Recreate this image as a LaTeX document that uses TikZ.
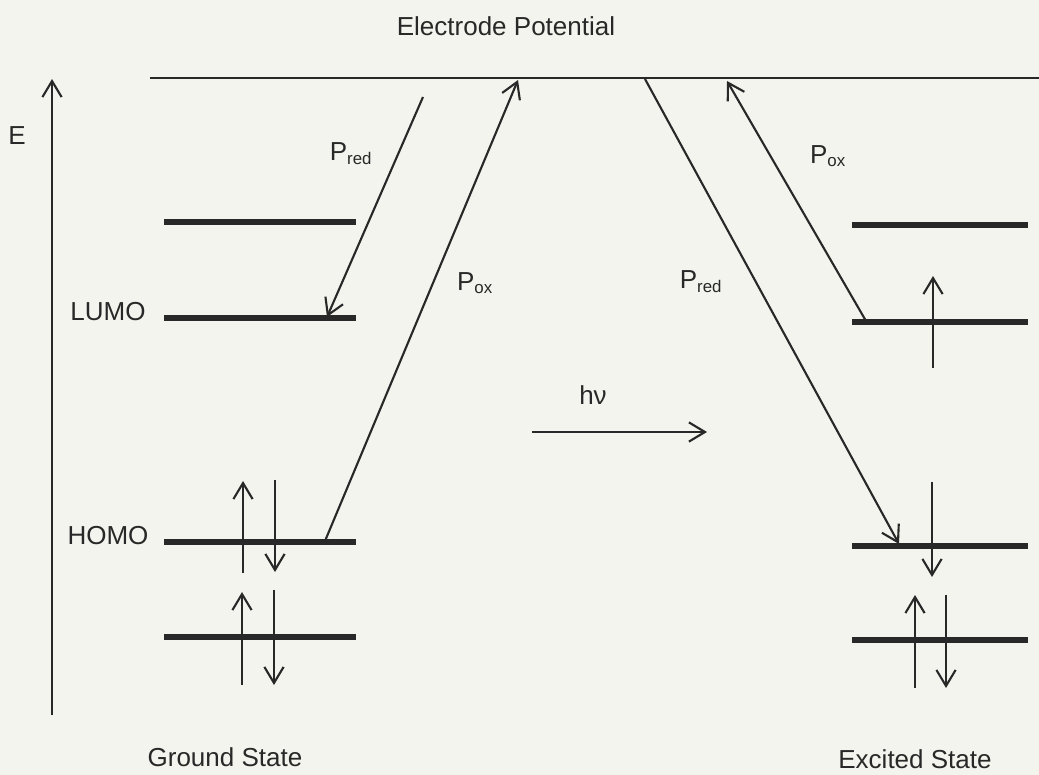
\documentclass[tikz,border=0pt]{standalone}
\usepackage{fontspec}
\setmainfont{Liberation Sans}
\usepackage{xcolor}
\usetikzlibrary{arrows.meta}

\definecolor{paper}{RGB}{244,244,238}
\definecolor{ink}{RGB}{40,40,40}

\begin{document}
\begin{tikzpicture}[x=0.025cm,y=-0.025cm,>={Straight Barb[length=4mm,width=4.8mm]},
  font=\fontsize{18.5}{22}\selectfont,
  wire/.style={ink,line width=1.5pt},
  lvl/.style={ink,line width=4.8pt},
  spin/.style={wire,->},
  lbl/.style={text=ink,inner sep=1pt}]

\fill[paper] (0,0) rectangle (1039,775);
\useasboundingbox (0,0) rectangle (1039,775);

% ---------- electrode and energy axis ----------
\coordinate (elL) at (150,78);
\coordinate (elR) at (1039,78);
\draw[wire] (elL) -- (elR);
\node[lbl] (elec) at (506,26) {Electrode Potential};

\coordinate (axB) at (52,715);
\coordinate (axT) at (52,79);
\draw[spin] (axB) -- (axT);
\node[lbl] (E) at (17,136) {E};

% ---------- ground state ----------
\foreach \y in {222,318,542,637}{
    \draw[lvl] (164,\y) -- (356,\y);
}
\node[lbl] (lumo) at (108,312) {LUMO};
\node[lbl] (homo) at (108,536) {HOMO};

\draw[spin] (243,573) -- (243,481);
\draw[spin] (275,480) -- (275,572);
\draw[spin] (242,685) -- (242,592);
\draw[spin] (274,590) -- (274,685);

\node[lbl] (gs) at (225,757) {Ground State};

% ---------- excited state ----------
\foreach \y in {225,322,546,640}{
    \draw[lvl] (852,\y) -- (1028,\y);
}

\draw[spin] (933,368) -- (933,276);
\draw[spin] (932,482) -- (932,577);
\draw[spin] (915,688) -- (915,595);
\draw[spin] (946,595) -- (946,688);

\node[lbl] (es) at (915,759) {Excited State};

% ---------- electron transfer ----------
\coordinate (redLs) at (423,97);
\coordinate (redLe) at (327,317);
\coordinate (oxLs)  at (325,541);
\coordinate (oxLe)  at (518,80);
\coordinate (redRs) at (645,79);
\coordinate (redRe) at (899,544);
\coordinate (oxRs)  at (866,321);
\coordinate (oxRe)  at (727,81);

\draw[spin] (redLs) -- (redLe);
\draw[spin] (oxLs) -- (oxLe);
\draw[spin] (redRs) -- (redRe);
\draw[spin] (oxRs) -- (oxRe);

\node[lbl] (predL) at (351,154) {P\textsubscript{\large red}};
\node[lbl] (poxL)  at (475,283) {P\textsubscript{\large ox}};
\node[lbl] (predR) at (701,282) {P\textsubscript{\large red}};
\node[lbl] (poxR)  at (828,156) {P\textsubscript{\large ox}};

% ---------- excitation ----------
\coordinate (hvL) at (532,432);
\coordinate (hvR) at (707,432);
\draw[spin] (hvL) -- (hvR);
\node[lbl] (hv) at (593,395) {hν};

\end{tikzpicture}
\end{document}
